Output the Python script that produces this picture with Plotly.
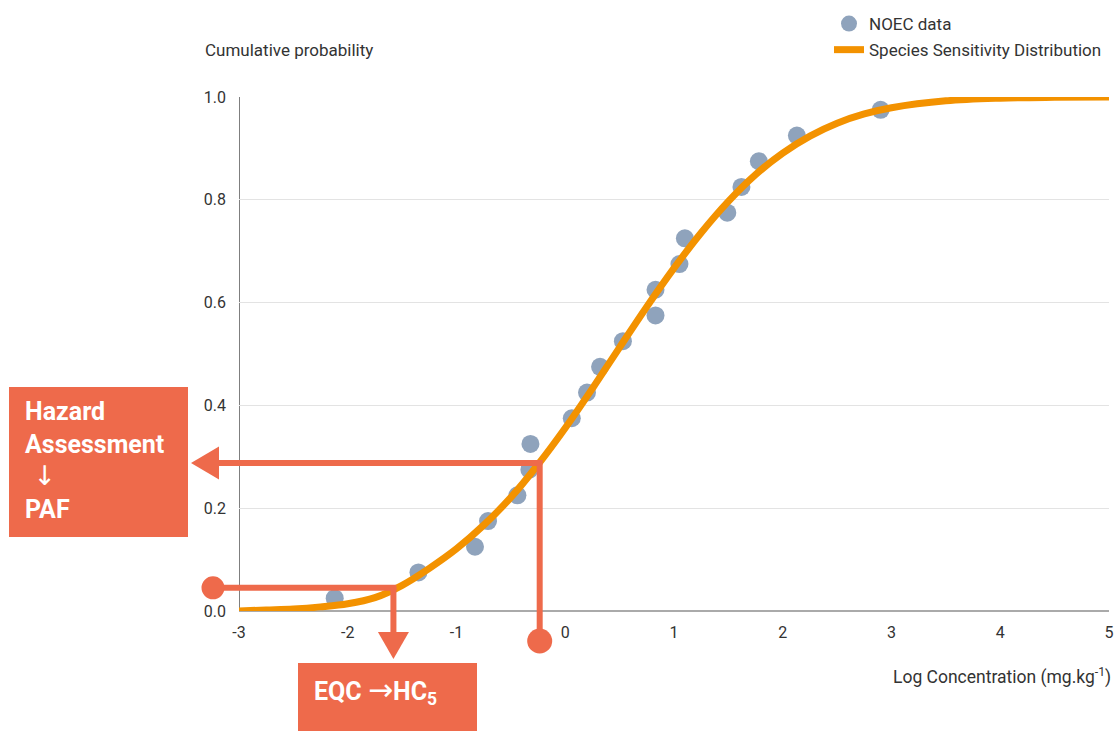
import plotly.graph_objects as go

# ---- data ----
noec_x = [-2.12, -1.35, -0.83, -0.71, -0.44, -0.33, -0.32, 0.06, 0.20, 0.32,
          0.53, 0.83, 0.83, 1.05, 1.10, 1.49, 1.62, 1.78, 2.13, 2.90]
noec_y = [0.025, 0.075, 0.125, 0.175, 0.225, 0.275, 0.325, 0.375, 0.425, 0.475,
          0.525, 0.575, 0.625, 0.675, 0.725, 0.775, 0.825, 0.875, 0.925, 0.975]

ssd_x = [-3, -2.75, -2.5, -2.25, -2, -1.75, -1.5, -1.25, -1, -0.75, -0.5, -0.25,
         0, 0.25, 0.5, 0.75, 1, 1.25, 1.5, 1.75, 2, 2.25, 2.5, 2.75, 3, 3.5, 4, 4.5, 5]
ssd_y = [0.0, 0.002, 0.004, 0.008, 0.014, 0.026, 0.05, 0.083, 0.121, 0.167, 0.221, 0.285,
         0.356, 0.433, 0.513, 0.592, 0.667, 0.736, 0.797, 0.849, 0.891, 0.924, 0.949, 0.967,
         0.979, 0.9925, 0.9977, 0.9994, 0.9999]

x_ticks = [-3, -2, -1, 0, 1, 2, 3, 4, 5]
y_ticks = [0.0, 0.2, 0.4, 0.6, 0.8, 1.0]

paf_x, paf_y = -0.235, 0.288     # point on the SSD read for the PAF
hc5_x, hc5_y = -1.58, 0.045      # HC5 point

RED = "#EE6A4B"
ORANGE = "#F39200"
BLUE = "#8FA3BC"
FONT = "Roboto"
ARROW_FONT = "DejaVu Sans"

# ---- layout geometry ----
W, H = 1114, 731
L, R, T, B = 239, 1109, 97, 611
PW, PH = R - L, B - T


def dx(x):  # data x -> paper
    return (x - x_ticks[0]) / (x_ticks[-1] - x_ticks[0])


def dy(y):
    return y


def px(p):  # pixel x -> paper
    return (p - L) / PW


def py(p):  # pixel y -> paper
    return (B - p) / PH


fig = go.Figure()
fig.add_trace(go.Scatter(
    x=noec_x, y=noec_y, mode="markers", name="NOEC data", legendgroup="a",
    marker=dict(color=BLUE, size=18), cliponaxis=False))
fig.add_trace(go.Scatter(
    x=ssd_x, y=ssd_y, mode="lines", name="Species Sensitivity Distribution",
    legendgroup="b",
    line=dict(color=ORANGE, width=7, shape="spline"), cliponaxis=False))

shapes = []
# PAF path: horizontal line to left arrow, vertical line down to circle
shapes.append(dict(type="line", xref="paper", yref="paper",
                   x0=px(215), x1=dx(paf_x), y0=dy(paf_y), y1=dy(paf_y),
                   line=dict(color=RED, width=6)))
shapes.append(dict(type="line", xref="paper", yref="paper",
                   x0=dx(paf_x), x1=dx(paf_x), y0=dy(paf_y) + 3 / PH, y1=py(640),
                   line=dict(color=RED, width=6)))
shapes.append(dict(type="path", xref="paper", yref="paper",
                   xsizemode="pixel", ysizemode="pixel",
                   xanchor=px(191), yanchor=dy(paf_y),
                   path="M0,0 L28,16.5 L28,-16.5 Z",
                   fillcolor=RED, line=dict(width=0)))
shapes.append(dict(type="circle", xref="paper", yref="paper",
                   xsizemode="pixel", ysizemode="pixel",
                   xanchor=dx(paf_x), yanchor=py(641),
                   x0=-12.5, x1=12.5, y0=-12.5, y1=12.5,
                   fillcolor=RED, line=dict(width=0)))
# HC5 path: circle, horizontal line, vertical line, down arrow
shapes.append(dict(type="line", xref="paper", yref="paper",
                   x0=px(213), x1=dx(hc5_x) + 3 / PW, y0=dy(hc5_y), y1=dy(hc5_y),
                   line=dict(color=RED, width=6)))
shapes.append(dict(type="line", xref="paper", yref="paper",
                   x0=dx(hc5_x), x1=dx(hc5_x), y0=dy(hc5_y), y1=py(634),
                   line=dict(color=RED, width=6)))
shapes.append(dict(type="path", xref="paper", yref="paper",
                   xsizemode="pixel", ysizemode="pixel",
                   xanchor=dx(hc5_x), yanchor=py(659),
                   path="M0,0 L-15.5,27 L15.5,27 Z",
                   fillcolor=RED, line=dict(width=0)))
shapes.append(dict(type="circle", xref="paper", yref="paper",
                   xsizemode="pixel", ysizemode="pixel",
                   xanchor=px(213), yanchor=dy(hc5_y),
                   x0=-11.5, x1=11.5, y0=-11.5, y1=11.5,
                   fillcolor=RED, line=dict(width=0)))
# boxes
shapes.append(dict(type="rect", xref="paper", yref="paper",
                   x0=px(9), x1=px(188), y0=py(387), y1=py(537),
                   fillcolor=RED, line=dict(width=0), layer="above"))
shapes.append(dict(type="rect", xref="paper", yref="paper",
                   x0=px(298), x1=px(477), y0=py(663), y1=py(735),
                   fillcolor=RED, line=dict(width=0), layer="above"))
# y axis line
shapes.append(dict(type="line", xref="x", yref="y",
                   x0=x_ticks[0], x1=x_ticks[0], y0=y_ticks[0], y1=y_ticks[-1],
                   line=dict(color="#555555", width=1.5), layer="below"))

arrow_down = (f'<span style="font-family:{ARROW_FONT};font-weight:normal;'
              f'font-size:27px"> ↓</span>')
arrow_right = (f'<span style="font-family:{ARROW_FONT};font-weight:normal;'
               f'font-size:30px">→</span>')

annotations = [
    dict(text=f"Hazard<br>Assessment<br>{arrow_down}<br>PAF", xref="paper", yref="paper",
         x=px(23), y=py(395), xanchor="left", yanchor="top", align="left",
         showarrow=False, font=dict(family=FONT, size=25, color="white", weight="bold")),
    dict(text=f"EQC {arrow_right}HC<sub>5</sub>", xref="paper", yref="paper",
         x=px(312), y=py(690), xanchor="left", yanchor="middle", align="left",
         showarrow=False, font=dict(family=FONT, size=25, color="white", weight="bold")),
    dict(text="Cumulative probability", xref="paper", yref="paper",
         x=px(203), y=py(50), xanchor="left", yanchor="middle",
         showarrow=False, font=dict(family=FONT, size=17, color="#333333")),
    dict(text="Log Concentration (mg.kg<sup>-1</sup>)", xref="paper", yref="paper",
         x=px(1113), y=py(676), xanchor="right", yanchor="middle",
         showarrow=False, font=dict(family=FONT, size=17.5, color="#333333")),
]

fig.update_layout(
    width=W, height=H,
    margin=dict(l=L, r=W - R, t=T, b=H - B, autoexpand=False),
    paper_bgcolor="white", plot_bgcolor="white",
    font=dict(family=FONT, size=16, color="#333333"),
    showlegend=True,
    legend=dict(x=px(829), y=py(6), xanchor="left", yanchor="top",
                font=dict(family=FONT, size=17, color="#333333"),
                bgcolor="rgba(0,0,0,0)", tracegroupgap=1, traceorder="grouped"),
    shapes=shapes,
    annotations=annotations,
    xaxis=dict(range=[x_ticks[0], x_ticks[-1]], tickvals=x_ticks,
               ticktext=[str(v) for v in x_ticks],
               showgrid=False, zeroline=False, showline=False,
               ticks="", ticklen=0, ticklabelstandoff=10,
               tickfont=dict(size=16, color="#333333")),
    yaxis=dict(range=[y_ticks[0], y_ticks[-1]], tickvals=y_ticks,
               ticktext=[f"{v:.1f}" for v in y_ticks],
               showgrid=True, gridcolor="#E3E3E3", gridwidth=1,
               zeroline=True, zerolinecolor="#AAAAAA", zerolinewidth=2,
               showline=False, ticks="", ticklabelstandoff=12,
               tickfont=dict(size=16, color="#333333")),
)

fig.write_html("out.html", config={"displayModeBar": False},
               post_script="document.body.style.margin='0';document.body.style.overflow='hidden';")
